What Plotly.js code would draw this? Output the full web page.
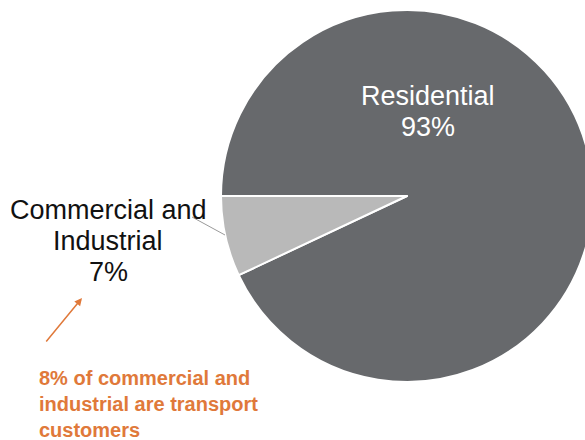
<!DOCTYPE html>
<html>
<head>
<meta charset="utf-8">
<script src="https://cdn.plot.ly/plotly-3.0.1.min.js"></script>
<style>
  html, body { margin: 0; padding: 0; overflow: hidden; background: #ffffff; }
  #chart { width: 600px; height: 440px; }
</style>
</head>
<body>
<div id="chart"></div>
<script>
// ---- Data ----
const categories = ['Residential', 'Commercial and<br>Industrial'];
const shares = [93, 7];
const sliceColors = ['#67696c', '#b9b9b9'];
const noteText = '8% of commercial and<br>industrial are transport<br>customers';

// ---- Layout helpers (pixel -> paper) ----
const W = 600, H = 440;
const px = x => x / W;
const py = y => 1 - y / H;

const trace = {
  type: 'pie',
  labels: categories,
  values: shares,
  sort: false,
  direction: 'clockwise',
  rotation: 270,
  textinfo: 'none',
  hoverinfo: 'skip',
  showlegend: false,
  marker: { colors: sliceColors, line: { color: '#ffffff', width: 2 } },
  domain: { x: [px(221), px(593)], y: [py(382), py(10)] }
};

// Build slice labels from the data arrays, one annotation per line
function labelLines(i) {
  return categories[i].split('<br>').concat([shares[i] + '%']);
}
const annotations = [];
const labelSpots = [
  { x: 428, y0: 96, color: '#ffffff' },
  { x: 108, y0: 210, color: '#111111' }
];
const lineGap = 31;
[0, 1].forEach(i => {
  labelLines(i).forEach((t, k) => {
    annotations.push({
      xref: 'paper', yref: 'paper',
      x: px(labelSpots[i].x), y: py(labelSpots[i].y0 + k * lineGap),
      xanchor: 'center', yanchor: 'middle',
      text: t, showarrow: false,
      font: { family: 'Liberation Sans, Arial, sans-serif', size: 27, color: labelSpots[i].color }
    });
  });
});

// Orange arrow
annotations.push({
  xref: 'paper', yref: 'paper',
  x: px(82), y: py(298),
  ax: -37, ay: 45,
  text: '', showarrow: true,
  arrowhead: 2, arrowsize: 1, arrowwidth: 1.5, standoff: 0,
  arrowcolor: '#e0793a'
});

// Orange note
annotations.push({
  xref: 'paper', yref: 'paper',
  x: px(37), y: py(365),
  xanchor: 'left', yanchor: 'top', align: 'left',
  text: noteText, showarrow: false,
  font: { family: 'Liberation Sans, Arial, sans-serif', size: 20, weight: 'bold', color: '#e0793a' }
});

const layout = {
  width: W, height: H,
  margin: { l: 0, r: 0, t: 0, b: 0 },
  paper_bgcolor: '#ffffff',
  plot_bgcolor: '#ffffff',
  showlegend: false,
  annotations: annotations,
  shapes: [{
    type: 'line', xref: 'paper', yref: 'paper',
    x0: px(192), y0: py(217), x1: px(225), y1: py(235),
    line: { color: '#9a9a9a', width: 1 }
  }]
};

Plotly.newPlot('chart', [trace], layout, { displayModeBar: false, staticPlot: true });
</script>
</body>
</html>
